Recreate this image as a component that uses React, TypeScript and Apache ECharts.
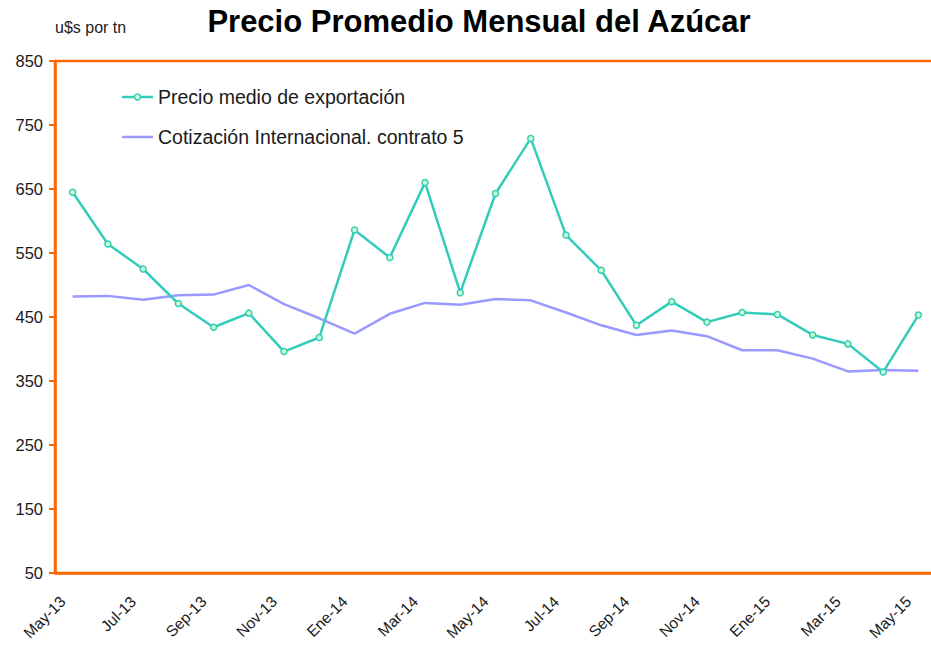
import React, { useEffect, useRef } from "react";
import * as echarts from "echarts";

const months = [
  "May-13", "Jun-13", "Jul-13", "Ago-13", "Sep-13", "Oct-13", "Nov-13", "Dic-13",
  "Ene-14", "Feb-14", "Mar-14", "Abr-14", "May-14", "Jun-14", "Jul-14", "Ago-14",
  "Sep-14", "Oct-14", "Nov-14", "Dic-14", "Ene-15", "Feb-15", "Mar-15", "Abr-15", "May-15",
];

const precioExportacion = [
  645, 564, 525, 471, 434, 456, 396, 418, 586, 543, 660, 488, 643,
  729, 578, 523, 437, 474, 442, 457, 454, 422, 408, 364, 453,
];

const cotizacionInternacional = [
  482, 483, 477, 484, 485, 500, 470, 448, 424, 455, 472, 469, 478,
  476, 457, 437, 422, 429, 420, 398, 398, 385, 365, 367, 366,
];

const seriesNames = ["Precio medio de exportación", "Cotización Internacional. contrato 5"];

const ORANGE = "#FF6600";
const TEAL = "#33CCBB";
const PURPLE = "#9999FF";
const FONT = "Liberation Sans, Arial, sans-serif";

export default function App() {
  const ref = useRef<HTMLDivElement>(null);

  useEffect(() => {
    if (!ref.current) return;
    const chart = echarts.init(ref.current, undefined, { renderer: "svg" });
    chart.setOption({
      animation: false,
      backgroundColor: "#ffffff",
      textStyle: { fontFamily: FONT },
      graphic: [
        {
          type: "text",
          x: 479,
          y: 21,
          style: {
            text: "Precio Promedio Mensual del Azúcar",
            font: `bold 31px ${FONT}`,
            fill: "#000000",
            textAlign: "center",
            textVerticalAlign: "middle",
          },
        },
        {
          type: "text",
          x: 55,
          y: 27,
          style: {
            text: "u$s por tn",
            font: `16px ${FONT}`,
            fill: "#222222",
            textAlign: "left",
            textVerticalAlign: "middle",
          },
        },
        {
          type: "line",
          shape: { x1: 122, y1: 97, x2: 153, y2: 97 },
          style: { stroke: TEAL, lineWidth: 2.5 },
        },
        {
          type: "circle",
          shape: { cx: 137.5, cy: 97, r: 3 },
          style: { fill: "#CCFFCC", stroke: TEAL, lineWidth: 1.5 },
        },
        {
          type: "text",
          x: 158,
          y: 97,
          style: {
            text: seriesNames[0],
            font: `19.5px ${FONT}`,
            fill: "#1a1a1a",
            textAlign: "left",
            textVerticalAlign: "middle",
          },
        },
        {
          type: "line",
          shape: { x1: 122, y1: 137, x2: 153, y2: 137 },
          style: { stroke: PURPLE, lineWidth: 2.5 },
        },
        {
          type: "text",
          x: 158,
          y: 137,
          style: {
            text: seriesNames[1],
            font: `19.5px ${FONT}`,
            fill: "#1a1a1a",
            textAlign: "left",
            textVerticalAlign: "middle",
          },
        },
      ],
      grid: {
        left: 55,
        right: 0,
        top: 61,
        bottom: 73,
        show: true,
        borderColor: ORANGE,
        borderWidth: 2.5,
        backgroundColor: "transparent",
      },
      xAxis: {
        type: "category",
        data: months,
        boundaryGap: true,
        axisLine: { lineStyle: { color: ORANGE, width: 2.5 } },
        axisTick: { inside: true, length: 5, interval: 1, lineStyle: { color: ORANGE, width: 2 } },
        axisLabel: {
          interval: 1,
          rotate: 45,
          margin: 16,
          padding: [0, 14, 0, 0],
          fontSize: 15.5,
          color: "#1a1a1a",
          fontFamily: FONT,
        },
        splitLine: { show: false },
      },
      yAxis: {
        type: "value",
        min: 50,
        max: 850,
        interval: 100,
        axisLine: { show: true, lineStyle: { color: ORANGE, width: 2.5 } },
        axisTick: { show: true, inside: false, length: 6, lineStyle: { color: ORANGE, width: 2 } },
        axisLabel: { fontSize: 16.5, color: "#1a1a1a", margin: 12, fontFamily: FONT },
        splitLine: { show: false },
      },
      series: [
        {
          name: seriesNames[0],
          type: "line",
          data: precioExportacion,
          symbol: "circle",
          symbolSize: 6,
          showSymbol: true,
          lineStyle: { color: TEAL, width: 2.5 },
          itemStyle: { color: "#CCFFCC", borderColor: TEAL, borderWidth: 1.5 },
          z: 3,
        },
        {
          name: seriesNames[1],
          type: "line",
          data: cotizacionInternacional,
          symbol: "none",
          lineStyle: { color: PURPLE, width: 2.5 },
          itemStyle: { color: PURPLE },
          z: 2,
        },
      ],
    });
    return () => chart.dispose();
  }, []);

  return (
    <div
      ref={ref}
      style={{ position: "fixed", left: 0, top: 0, width: 936, height: 646, background: "#fff" }}
    />
  );
}
